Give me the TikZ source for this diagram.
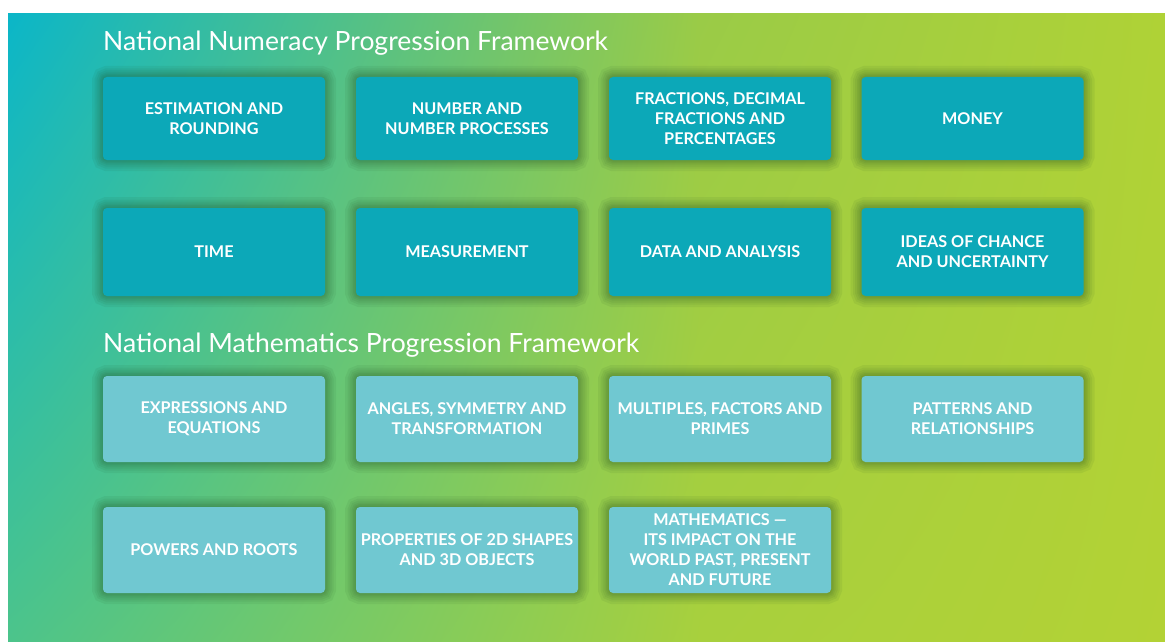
\documentclass[tikz,border=0pt]{standalone}
\usepackage{fontspec}
\setmainfont{Lato}
\usetikzlibrary{shadings}
\definecolor{bgUL}{HTML}{0BB6C8}
\definecolor{bgLL}{HTML}{4CC48B}
\definecolor{bgUM}{HTML}{9ACB47}
\definecolor{bgLM}{HTML}{A8D03D}
\definecolor{bgUR}{HTML}{AFD236}
\definecolor{bgLR}{HTML}{B3D235}
\definecolor{numc}{HTML}{0CA8B8}
\definecolor{mathc}{HTML}{70C8D1}
\definecolor{glowc}{HTML}{1E4A20}
\begin{document}
\begin{tikzpicture}[x=1pt,y=-1pt,
  glow/.style={preaction={draw=glowc, draw opacity=#1, line width=22pt},
               preaction={draw=glowc, draw opacity=#1, line width=17pt},
               preaction={draw=glowc, draw opacity=#1, line width=13pt},
               preaction={draw=glowc, draw opacity=#1, line width=9pt},
               preaction={draw=glowc, draw opacity=#1, line width=6pt},
               preaction={draw=glowc, draw opacity=#1, line width=3pt}},
  box/.style={rounded corners=4pt, minimum width=222pt, inner sep=0pt, align=center,
    text=white, font=\bfseries\fontsize{16.2}{20}\selectfont, glow=0.07},
  numbox/.style={box, fill=numc},
  mathbox/.style={box, fill=mathc},
  heading/.style={anchor=base west, text=white, inner sep=0pt, font=\fontsize{26.5}{30}\selectfont}]
\useasboundingbox (0,0) rectangle (1165,642);
\fill[white] (0,0) rectangle (1165,642);
\begin{scope}
\clip (8,14) rectangle (1165,642);
\shade[upper left=bgUL, lower left=bgLL, upper right=bgUM, lower right=bgLM] (8,14) rectangle (700,642);
\shade[upper left=bgUM, lower left=bgLM, upper right=bgUR, lower right=bgLR] (700,14) rectangle (1165,642);

\node[heading] (t1) at (103,51) {National Numeracy Progression Framework};
\node[heading] (t2) at (103,352) {National Mathematics Progression Framework};

\begin{scope}[every node/.append style={minimum height=83pt}]
\node[numbox] (n1) at (214,118.5) {ESTIMATION AND\\ROUNDING};
\node[numbox] (n2) at (467,118.5) {NUMBER AND\\NUMBER PROCESSES};
\node[numbox] (n3) at (720,118.5) {FRACTIONS, DECIMAL\\FRACTIONS AND\\PERCENTAGES};
\node[numbox] (n4) at (972.5,118.5) {MONEY};
\end{scope}
\begin{scope}[every node/.append style={minimum height=88pt}]
\node[numbox] (n5) at (214,252) {TIME};
\node[numbox] (n6) at (467,252) {MEASUREMENT};
\node[numbox] (n7) at (720,252) {DATA AND ANALYSIS};
\node[numbox] (n8) at (972.5,252) {IDEAS OF CHANCE\\AND UNCERTAINTY};
\end{scope}
\begin{scope}[every node/.append style={minimum height=86pt}]
\node[mathbox] (m1) at (214,419) {EXPRESSIONS AND\\EQUATIONS};
\node[mathbox] (m2) at (467,419) {ANGLES, SYMMETRY AND\\TRANSFORMATION};
\node[mathbox] (m3) at (720,419) {MULTIPLES, FACTORS AND\\PRIMES};
\node[mathbox] (m4) at (972.5,419) {PATTERNS AND\\RELATIONSHIPS};
\node[mathbox] (m5) at (214,550) {POWERS AND ROOTS};
\node[mathbox] (m6) at (467,550) {PROPERTIES OF 2D SHAPES\\AND 3D OBJECTS};
\node[mathbox] (m7) at (720,550) {MATHEMATICS —\\ITS IMPACT ON THE\\WORLD PAST, PRESENT\\AND FUTURE};
\end{scope}
\end{scope}
\end{tikzpicture}
\end{document}
